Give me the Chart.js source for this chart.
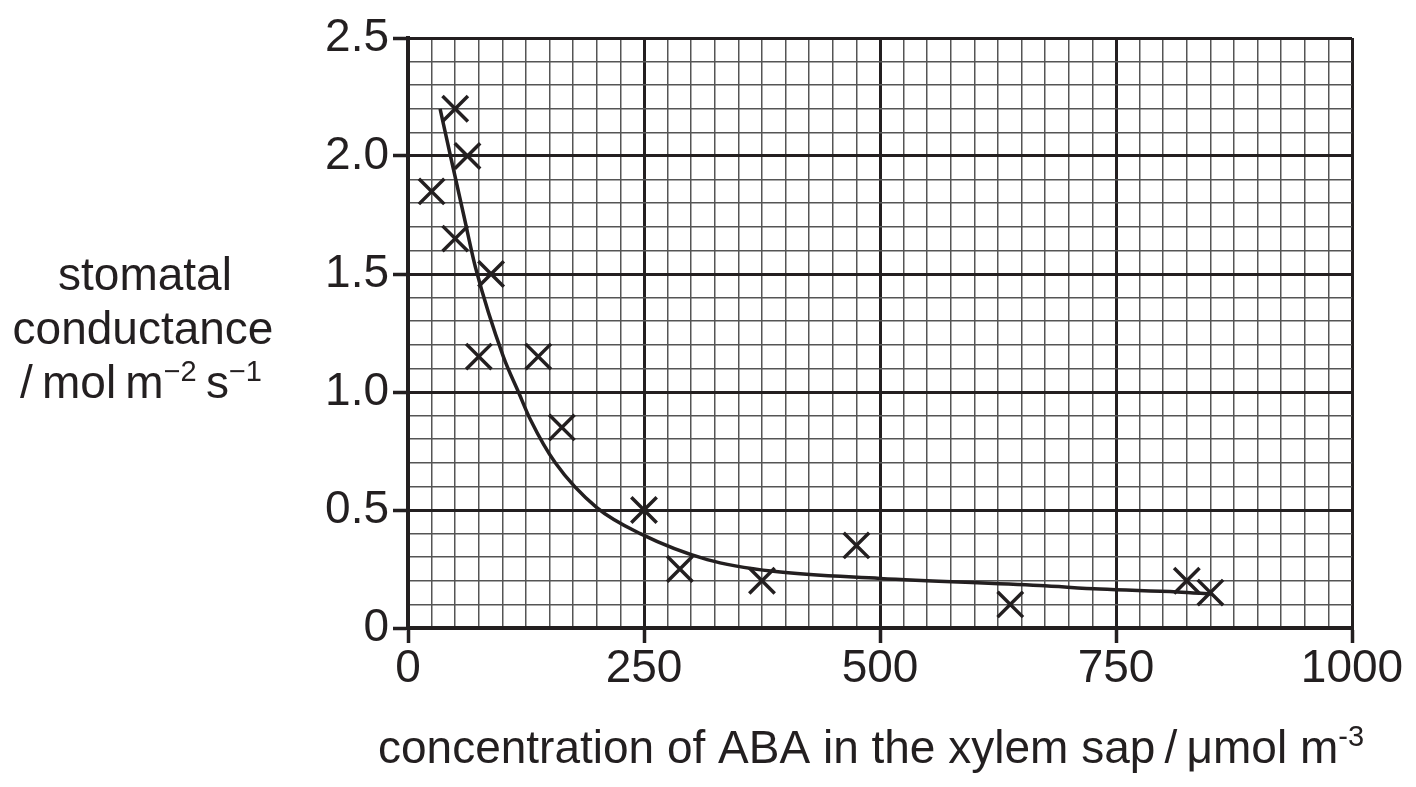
<!DOCTYPE html>
<html lang="en">
  <head>
    <meta charset="utf-8" />
    <title>Stomatal conductance and ABA</title>
    <style>
      html, body { margin: 0; padding: 0; background: #fff; }
      .chartBox { width: 1416px; height: 787px; }
    </style>
  </head>
  <body>
    <div class="chartBox">
      <canvas id="myChart" width="1416" height="787"></canvas>
    </div>
    <script src="https://cdn.jsdelivr.net/npm/chart.js"></script>
    <script>
      // measured points (the crosses)
      const abaConc = [25, 50, 50, 63, 75, 88, 138, 163, 250, 288, 375, 475, 638, 825, 850];
      const conductance = [1.85, 2.2, 1.65, 2.0, 1.15, 1.5, 1.15, 0.85, 0.5, 0.25, 0.2, 0.35, 0.1, 0.2, 0.15];

      // best fit curve
      const curveX = [34, 45, 59, 72, 101, 117, 130, 156, 200, 246, 317, 387, 500, 669, 733, 815, 852];
      const curveY = [2.2, 2.0, 1.75, 1.52, 1.15, 1.0, 0.88, 0.7, 0.51, 0.4, 0.29, 0.24, 0.21, 0.18, 0.165, 0.153, 0.144];

      const xTickLabels = ["0", "250", "500", "750", "1000"];
      const yTickLabels = ["0", "0.5", "1.0", "1.5", "2.0", "2.5"];

      const yTitle = [
        [{ t: "stomatal" }],
        [{ t: "conductance" }],
        [{ t: "/\u2009mol\u2009m" }, { t: "\u22122", sup: true }, { t: "\u2009s" }, { t: "\u22121", sup: true }],
      ];
      const xTitle = [
        { t: "concentration of ABA in the xylem sap\u2009/\u2009\u03bcmol m" },
        { t: "-3", sup: true },
      ];

      const FONT = "'Liberation Sans', Arial, Helvetica, sans-serif";
      const INK = "#231f20";

      const isMajorX = (v) => Math.round(v) % 250 === 0;
      const isMajorY = (v) => Math.round(v * 10) % 5 === 0;

      function drawRuns(ctx, runs, cx, baseline, size) {
        const supSize = Math.round(size * 0.64);
        let total = 0;
        runs.forEach((r) => {
          ctx.font = (r.sup ? supSize : size) + "px " + FONT;
          r.w = ctx.measureText(r.t).width;
          total += r.w;
        });
        let x = cx - total / 2;
        runs.forEach((r) => {
          ctx.font = (r.sup ? supSize : size) + "px " + FONT;
          ctx.fillText(r.t, x, r.sup ? baseline - 17 : baseline);
          x += r.w;
        });
      }

      const titles = {
        id: "titles",
        afterDraw(chart) {
          const ctx = chart.ctx;
          ctx.save();
          ctx.fillStyle = INK;
          ctx.textAlign = "left";
          ctx.textBaseline = "alphabetic";
          drawRuns(ctx, yTitle[0], 145, 290, 46);
          drawRuns(ctx, yTitle[1], 143, 344, 46);
          drawRuns(ctx, yTitle[2], 141, 398, 46);
          drawRuns(ctx, xTitle, 871, 763, 46);
          ctx.restore();
        },
      };

      const data = {
        datasets: [
          {
            type: "line",
            label: "curve",
            data: curveX.map((x, i) => ({ x: x, y: curveY[i] })),
            borderColor: INK,
            borderWidth: 3.5,
            pointRadius: 0,
            fill: false,
            cubicInterpolationMode: "monotone",
          },
          {
            type: "scatter",
            label: "measured",
            data: abaConc.map((x, i) => ({ x: x, y: conductance[i] })),
            pointStyle: "crossRot",
            pointRadius: 18,
            borderColor: INK,
            borderWidth: 3.5,
          },
        ],
      };

      const config = {
        type: "scatter",
        data,
        plugins: [titles],
        options: {
          responsive: false,
          animation: false,
          events: [],
          layout: { padding: { top: 38, right: 64, left: 0, bottom: 0 } },
          plugins: { legend: { display: false }, tooltip: { enabled: false } },
          scales: {
            x: {
              type: "linear",
              min: 0,
              max: 1000,
              afterFit: (scale) => { scale.height = 159; },
              ticks: {
                stepSize: 25,
                autoSkip: false,
                maxRotation: 0,
                padding: 3,
                color: INK,
                font: { family: FONT, size: 46, lineHeight: 1 },
                callback: (v) => (isMajorX(v) ? xTickLabels[Math.round(v / 250)] : ""),
              },
              grid: {
                color: (c) => (c.tick && isMajorX(c.tick.value) ? INK : "#555555"),
                lineWidth: (c) => (c.tick && isMajorX(c.tick.value) ? 3 : 1.5),
                tickLength: 15,
                tickColor: (c) => (c.tick && isMajorX(c.tick.value) ? INK : "rgba(0,0,0,0)"),
                tickWidth: 3.5,
              },
              border: { color: INK, width: 4 },
            },
            y: {
              type: "linear",
              min: 0,
              max: 2.5,
              afterFit: (scale) => { scale.width = 408; },
              ticks: {
                stepSize: 0.1,
                autoSkip: false,
                padding: 4,
                color: INK,
                font: { family: FONT, size: 46, lineHeight: 1 },
                callback: (v) => (isMajorY(v) ? yTickLabels[Math.round(v * 2)] : ""),
              },
              grid: {
                color: (c) => (c.tick && isMajorY(c.tick.value) ? INK : "#555555"),
                lineWidth: (c) => (c.tick && isMajorY(c.tick.value) ? 3 : 1.5),
                tickLength: 15,
                tickColor: (c) => (c.tick && isMajorY(c.tick.value) ? INK : "rgba(0,0,0,0)"),
                tickWidth: 3.5,
              },
              border: { color: INK, width: 4 },
            },
          },
        },
      };

      const myChart = new Chart(document.getElementById("myChart"), config);
    </script>
  </body>
</html>
